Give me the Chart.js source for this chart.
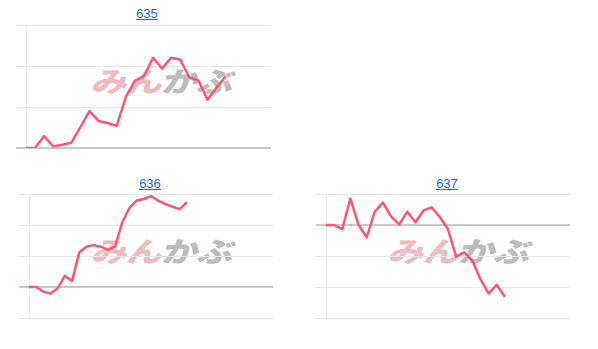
<!DOCTYPE html>
<html>
<head>
<meta charset="utf-8">
<script src="https://cdn.jsdelivr.net/npm/chart.js@4"></script>
<style>
  body { margin: 0; background: #fff; width: 598px; height: 349px; position: relative; overflow: hidden; }
  .title { position: absolute; width: 100px; text-align: center; font: 13px/15px "Liberation Sans", Arial, sans-serif; }
  .title a { color: #1a6dcc; text-decoration: underline; }
  .mark { position: absolute; font: 900 28px/28px "Noto Sans CJK JP", sans-serif; white-space: nowrap;
          transform-origin: left top; transform: skewX(-14deg) scaleX(1.3); letter-spacing: -1px; }
  .mark .a { color: #ecbcbf; }
  .mark .b { color: #bcbcbc; }
  canvas { position: absolute; }
</style>
</head>
<body>
<div class="title" style="left:97px;top:6px"><a href="#">635</a></div>
<div class="title" style="left:100px;top:176px"><a href="#">636</a></div>
<div class="title" style="left:397px;top:176px"><a href="#">637</a></div>

<div class="mark" style="left:97px;top:66px"><span class="a">みん</span><span class="b">かぶ</span></div>
<div class="mark" style="left:97px;top:236px"><span class="a">みん</span><span class="b">かぶ</span></div>
<div class="mark" style="left:394px;top:236px"><span class="a">みん</span><span class="b">かぶ</span></div>

<canvas id="c635" width="298" height="132" style="left:0;top:20px"></canvas>
<canvas id="c636" width="298" height="132" style="left:0;top:190px"></canvas>
<canvas id="c637" width="298" height="132" style="left:298px;top:190px"></canvas>

<script>
// hidden day labels for each chart
const labels635 = ['1','2','3','4','5','6','7','8','9','10','11','12','13','14','15','16','17','18','19','20',
    '21','22','23','24','25','26','27','28'];
const labels636 = ['1','2','3','4','5','6','7','8','9','10','11','12','13','14','15','16','17','18','19','20',
    '21','22','23','24','25','26','27','28','29','30','31','32','33','34','35'];
const labels637 = ['1','2','3','4','5','6','7','8','9','10','11','12','13','14','15','16','17','18','19','20',
    '21','22','23','24','25','26','27','28','29','30','31'];

const values635 = [0, 0, 0.29, 0.04, 0.08, 0.13, 0.51, 0.9, 0.66, 0.61, 0.54, 1.24, 1.64, 1.75,
    2.2, 1.94, 2.2, 2.16, 1.72, 1.65, 1.18, 1.47, 1.75];
const values636 = [0, 0, -0.15, -0.21, -0.04, 0.36, 0.19, 1.11, 1.3, 1.35, 1.3, 1.2, 1.3, 2.09,
    2.55, 2.79, 2.84, 2.93, 2.79, 2.68, 2.59, 2.51, 2.74];
const values637 = [0, 0, -0.13, 0.85, 0, -0.4, 0.43, 0.72, 0.28, 0.01, 0.43, 0.09, 0.47, 0.57,
    0.25, -0.13, -1.02, -0.88, -1.15, -1.75, -2.21, -1.93, -2.32];

const lineColor = 'rgb(255, 85, 115)';

function makeChart(id, labels, values, yMin, yMax, pad) {
    const c = document.getElementById(id).getContext('2d');
    return new Chart(c, {
        type: 'line',
        data: {
            labels,
            datasets: [{
                data: values,
                borderColor: lineColor,
                borderWidth: 2.5,
                borderJoinStyle: 'round',
                pointRadius: 0,
                tension: 0,
                fill: false
            }]
        },
        options: {
            responsive: false,
            animation: false,
            layout: { padding: pad },
            plugins: { legend: { display: false }, tooltip: { enabled: false } },
            scales: {
                x: {
                    offset: false,
                    grid: { display: false, drawTicks: false },
                    border: { display: false },
                    ticks: { display: false }
                },
                y: {
                    min: yMin,
                    max: yMax,
                    ticks: { display: false, stepSize: 1 },
                    border: { display: true, color: '#e6e6e6' },
                    grid: {
                        tickLength: 10,
                        color: (ctx) => ctx.tick && ctx.tick.value === 0 ? '#c9c9c9' : '#e6e6e6',
                        lineWidth: (ctx) => ctx.tick && ctx.tick.value === 0 ? 2 : 1
                    }
                }
            }
        }
    });
}

makeChart('c635', labels635, values635, 0, 3, { top: 5, bottom: 4, left: 16, right: 27 });
makeChart('c636', labels636, values636, -1, 3, { top: 4, bottom: 4, left: 19, right: 25 });
makeChart('c637', labels637, values637, -3, 1, { top: 4, bottom: 4, left: 18, right: 26 });
</script>
</body>
</html>
